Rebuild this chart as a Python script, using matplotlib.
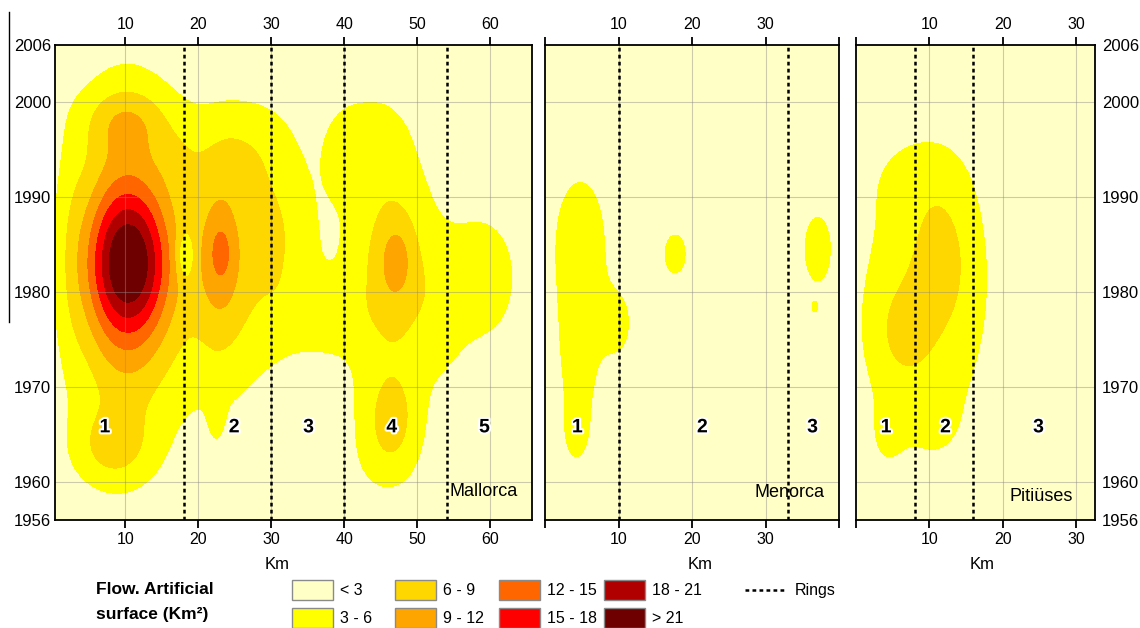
import numpy as np
import matplotlib
matplotlib.use('Agg')
import matplotlib.pyplot as plt
from matplotlib.patches import Rectangle
from matplotlib.lines import Line2D
import matplotlib.patheffects as pe

plt.rcParams['font.family'] = ['Liberation Sans', 'DejaVu Sans']

# classes of the flow of artificial surface (km2)
levels = [-100, 3, 6, 9, 12, 15, 18, 21, 100]
class_labels = ['< 3', '3 - 6', '6 - 9', '9 - 12', '12 - 15', '15 - 18', '18 - 21', '> 21']
class_colors = ['#ffffc6', '#ffff00', '#ffd700', '#ffa500', '#ff6600', '#ff0000', '#b00000', '#6e0000']

year_ticks = [1956, 1960, 1970, 1980, 1990, 2000, 2006]

# Mallorca: hot spots (km, year, spread km, spread years, peak flow)
mallorca_km = [10.4, 10.2, 10.0, 10.0, 8.0, 2.5, 17.5, 23.0, 24.0, 23.1, 18.2, 22.5, 26.0, 31.0, 37.0,
               46.0, 46.8, 47.2, 46.5, 45.5, 43.5, 40.0, 59.5, 53.5]
mallorca_year = [1983, 1983, 1983, 1998, 1963.5, 1984, 1994, 1984, 1982, 1984.2, 1983.8, 1967.5, 1995.5,
                 1986, 1977.5, 1981, 1982.5, 1983.5, 1966.7, 1962, 1996, 1994.5, 1981.5, 1978]
mallorca_skm = [3.6, 4.6, 6.3, 4.0, 4.0, 1.5, 2.5, 2.4, 5.5, 1.0, 0.9, 0.8, 4.0, 3.5, 3.5,
                7.0, 3.0, 1.3, 2.6, 3.5, 3.5, 2.0, 3.5, 2.5]
mallorca_syr = [5.0, 10, 14, 2.5, 3, 10, 3, 6.5, 12, 2, 1.8, 2.5, 3.5, 8, 2.5,
                15, 6, 2.3, 3.5, 3, 3.5, 3, 5, 5]
mallorca_peak = [12, 7, 6, 4, 4.5, 1.5, 1.5, 5.5, 4.5, 2.5, -5, 2, 2.5, 4, 3,
                 4, 4.5, 2.5, 4.4, 1.5, 2.2, 2.5, 4.5, 2]
mallorca_rings = [18, 30, 40, 54]
mallorca_zones = [7.2, 24.9, 35.1, 46.5, 59.2]

# Menorca
menorca_km = [4.8, 4.6, 10.0, 4.2, 17.7, 37.1, 36.7]
menorca_year = [1985.5, 1972.5, 1976.5, 1964.5, 1984, 1984.5, 1978.4]
menorca_skm = [3.6, 2.4, 1.8, 1.7, 1.5, 1.9, 0.35]
menorca_syr = [7.0, 6.0, 3.0, 3.0, 2.2, 3.7, 0.5]
menorca_peak = [4.3, 3.8, 3.4, 2.4, 4.5, 4.5, 3.3]
menorca_rings = [10, 33]
menorca_zones = [4.4, 21.4, 36.4]

# Pitiuses
pitiuses_km = [9.5, 12.0, 6.0, 7.5, 4.0, 11.0]
pitiuses_year = [1979.5, 1984, 1975.5, 1992, 1964.5, 1966]
pitiuses_skm = [7.2, 3.0, 3.0, 5.0, 2.0, 2.5]
pitiuses_syr = [13, 5.5, 4.0, 3.0, 3.0, 2.5]
pitiuses_peak = [5.2, 2.6, 2.5, 1.0, 1.5, 1.0]
pitiuses_rings = [8, 16]
pitiuses_zones = [4.1, 12.2, 24.9]


def surface(km, yr, skm, syr, peak, xmax):
    x = np.linspace(0, xmax, 500)
    y = np.linspace(1956, 2006, 400)
    X, Y = np.meshgrid(x, y)
    Z = np.zeros_like(X)
    for k, t, sk, st, p in zip(km, yr, skm, syr, peak):
        Z += p * np.exp(-0.5 * ((X - k) / sk) ** 2 - 0.5 * ((Y - t) / st) ** 2)
    return X, Y, Z


def draw_panel(ax, Z, xlim, xticks, xlabels, rings, zones, name, name_pos, km_x):
    X, Y, F = Z
    ax.contourf(X, Y, F, levels=levels, colors=class_colors, zorder=1)
    ax.set_xlim(xlim)
    ax.set_ylim(1956, 2006)
    for gx in xticks:
        if xlim[0] < gx < xlim[1]:
            ax.axvline(gx, color='#8c8c8c', lw=0.8, alpha=0.45, zorder=2)
    for gy in year_ticks[1:-1]:
        ax.axhline(gy, color='#8c8c8c', lw=0.8, alpha=0.45, zorder=2)
    for r in rings:
        ax.axvline(r, color='black', lw=1.8, ls=(0, (1.5, 1.3)), zorder=3)
    for i, z in enumerate(zones):
        ax.text(z, 1965.7, str(i + 1), fontsize=14, fontweight='bold', ha='center', va='center',
                zorder=4, path_effects=[pe.withStroke(linewidth=3, foreground='white')])
    ax.text(name_pos[0], name_pos[1], name, transform=ax.transAxes, fontsize=13,
            ha='right', va='center', zorder=4)
    ax.set_xticks(xticks)
    ax.set_xticklabels(xlabels)
    ax.tick_params(axis='x', top=True, labeltop=True, bottom=True, labelbottom=True,
                   direction='out', length=6, width=1.3, labelsize=11.5, pad=3)
    ax.set_yticks(year_ticks)
    ax.set_yticklabels([str(y) for y in year_ticks])
    ax.tick_params(axis='y', length=0, labelsize=12)
    ax.set_xlabel('Km', fontsize=12)
    ax.xaxis.set_label_coords(km_x, -0.078)
    for s in ax.spines.values():
        s.set_linewidth(1.3)


fig = plt.figure(figsize=(11.4, 6.28), dpi=100)
ax1 = fig.add_axes([0.0482, 0.172, 0.4184, 0.7564])
ax2 = fig.add_axes([0.4781, 0.172, 0.2579, 0.7564])
ax3 = fig.add_axes([0.7509, 0.172, 0.2096, 0.7564])

draw_panel(ax1, surface(mallorca_km, mallorca_year, mallorca_skm, mallorca_syr, mallorca_peak, 66),
           (0.35, 65.7), [10, 20, 30, 40, 50, 60], ['10', '20', '30', '40', '50', '60'],
           mallorca_rings, mallorca_zones, 'Mallorca', (0.971, 0.06), 0.465)
draw_panel(ax2, surface(menorca_km, menorca_year, menorca_skm, menorca_syr, menorca_peak, 40),
           (0, 40), [0, 10, 20, 30, 40], ['', '10', '20', '30', ''],
           menorca_rings, menorca_zones, 'Menorca', (0.952, 0.057), 0.527)
draw_panel(ax3, surface(pitiuses_km, pitiuses_year, pitiuses_skm, pitiuses_syr, pitiuses_peak, 32.6),
           (0, 32.6), [0, 10, 20, 30], ['', '10', '20', '30'],
           pitiuses_rings, pitiuses_zones, 'Pitiüses', (0.908, 0.049), 0.527)

ax1.tick_params(axis='y', pad=3)
ax2.tick_params(axis='y', labelleft=False)
ax3.tick_params(axis='y', labelleft=False, labelright=True, pad=5)

# legend drawn in pixel coordinates of the figure
lg = fig.add_axes([0, 0, 1, 1], zorder=-1)
lg.set_xlim(0, 1140)
lg.set_ylim(628, 0)
lg.axis('off')
lg.text(96, 590, 'Flow. Artificial', fontsize=12.5, fontweight='bold', va='center')
lg.text(96, 614, 'surface (Km²)', fontsize=12.5, fontweight='bold', va='center')
col_x = [292, 395, 499, 604]
row_y = [580, 608]
for i, (lab, col) in enumerate(zip(class_labels, class_colors)):
    cx = col_x[i // 2]
    ry = row_y[i % 2]
    lg.add_patch(Rectangle((cx, ry), 41, 20, facecolor=col, edgecolor='#8a8a8a', lw=1))
    lg.text(cx + 48, ry + 10.5, lab, fontsize=11.5, va='center')
lg.add_line(Line2D([745, 785], [590, 590], color='black', lw=1.8, ls=(0, (1.5, 1.3))))
lg.text(795, 590, 'Rings', fontsize=11.5, va='center')
lg.add_line(Line2D([8.5, 8.5], [12, 322], color='black', lw=1))

fig.savefig('out.png', dpi=100)
